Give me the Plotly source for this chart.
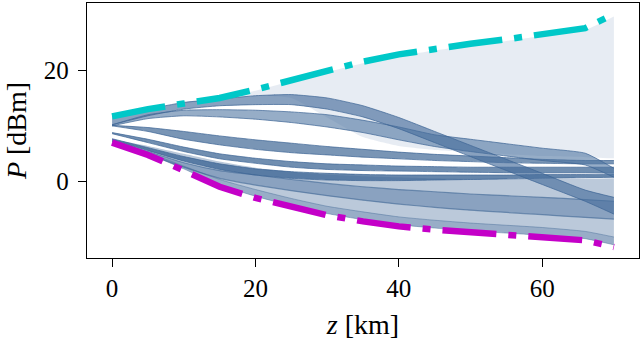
import plotly.graph_objects as go

# distance grid [km]
z_km = [0, 5, 10, 15, 20, 25, 30, 35, 40, 45, 50, 55, 60, 66, 70]

# envelopes [dBm]
p_max = [11.7, 13.0, 14.0, 15.0, 16.5, 18.2, 19.9, 21.5, 22.8, 23.8, 24.7, 25.5, 26.4, 27.5, 30.0]
p_min = [7.0, 4.8, 2.0, -0.9, -2.9, -4.6, -6.0, -7.1, -8.0, -8.6, -9.1, -9.5, -9.9, -10.5, -11.7]

# light fan of trajectories (upper / lower edges)
fan_hi = [11.7, 13.0, 14.0, 15.0, 16.3, 18.0, 19.6, 21.2, 22.5, 23.5, 24.4, 25.2, 26.1, 27.2, 29.6]
fan_lo = [11.7, 13.0, 14.2, 14.8, 15.4, 15.0, 11.5, 8.0, 6.4, 5.7, 5.3, 4.9, 4.6, 4.4, 4.2]

# lower spread of trajectories
low_hi = [7.6, 6.4, 5.0, 3.6, 2.5, 1.8, 1.3, 1.0, 0.8, 0.6, 0.5, 0.5, 0.5, 0.5, 0.6]
low_lo = [7.1, 5.0, 2.3, -0.6, -2.6, -4.3, -5.7, -6.8, -7.7, -8.3, -8.8, -9.2, -9.6, -10.2, -11.3]

# channel ribbons (upper / lower edges)
a_hi = [11.7, 13.0, 14.2, 14.8, 15.4, 15.6, 15.0, 13.6, 11.5, 9.0, 6.5, 4.0, 1.5, -1.5, -2.8]
a_lo = [10.2, 11.8, 13.0, 13.6, 13.8, 13.8, 13.0, 11.6, 9.5, 7.0, 4.5, 2.0, -0.5, -3.5, -5.8]
b_hi = [10.2, 12.0, 12.8, 12.9, 12.8, 12.5, 12.0, 11.0, 9.8, 8.4, 7.6, 6.8, 6.0, 5.1, 2.4]
b_lo = [10.0, 11.3, 11.8, 11.6, 11.2, 10.6, 9.8, 8.8, 7.5, 6.3, 5.4, 4.6, 3.8, 3.0, 0.8]
c_hi = [10.1, 9.7, 9.0, 8.2, 7.5, 6.9, 6.3, 5.8, 5.3, 4.9, 4.6, 4.3, 4.0, 3.8, 3.8]
c_lo = [10.0, 9.0, 7.6, 6.6, 5.8, 5.2, 4.8, 4.4, 4.1, 3.8, 3.6, 3.4, 3.3, 3.2, 3.2]
d_hi = [8.8, 7.6, 6.2, 5.0, 4.2, 3.6, 3.2, 3.0, 2.8, 2.7, 2.6, 2.6, 2.6, 2.6, 2.6]
d_lo = [8.6, 7.0, 5.4, 4.1, 3.3, 2.6, 2.2, 2.0, 1.9, 1.8, 1.7, 1.6, 1.6, 1.6, 1.6]
e_hi = [7.7, 6.1, 4.5, 3.2, 2.3, 1.8, 1.5, 1.3, 1.2, 1.2, 1.2, 1.2, 1.3, 1.3, 1.4]
e_lo = [7.5, 5.6, 3.7, 2.2, 1.2, 0.6, 0.3, 0.2, 0.2, 0.3, 0.4, 0.5, 0.6, 0.7, 0.8]
f_hi = [7.4, 5.4, 3.4, 2.0, 1.2, 0.4, -0.3, -0.9, -1.4, -1.8, -2.2, -2.5, -2.8, -3.2, -3.5]
f_lo = [7.2, 4.9, 2.6, 0.6, -0.6, -1.6, -2.5, -3.3, -4.0, -4.6, -5.1, -5.5, -5.9, -6.4, -6.7]
g_hi = [7.2, 5.2, 2.8, 0.4, -1.4, -3.0, -4.4, -5.4, -6.3, -6.9, -7.4, -7.8, -8.2, -8.9, -9.9]
g_lo = [7.1, 5.0, 2.3, -0.6, -2.6, -4.3, -5.7, -6.8, -7.7, -8.3, -8.8, -9.2, -9.6, -10.2, -11.3]

fig = go.Figure()


def ribbon(hi, lo, fill, edge, ew):
    shape = dict(shape="spline", smoothing=0.5)
    fig.add_trace(go.Scatter(
        x=z_km, y=lo, mode="lines", line=dict(color=edge, width=ew, **shape),
        hoverinfo="skip", showlegend=False))
    fig.add_trace(go.Scatter(
        x=z_km, y=hi, mode="lines", fill="tonexty", fillcolor=fill,
        line=dict(color=edge, width=ew, **shape),
        hoverinfo="skip", showlegend=False))


ribbon(fan_hi, fan_lo, "rgba(208,218,231,0.5)", "rgba(208,218,231,0.0)", 0)
ribbon(low_hi, low_lo, "rgba(120,148,182,0.5)", "rgba(120,148,182,0.0)", 0)
ribbon(g_hi, g_lo, "rgba(110,140,176,0.45)", "rgba(70,108,152,0.45)", 1)
ribbon(f_hi, f_lo, "rgba(80,116,160,0.45)", "rgba(62,102,148,0.6)", 1.2)
ribbon(e_hi, e_lo, "rgba(64,104,150,0.8)", "rgba(60,100,148,0.7)", 1.0)
ribbon(d_hi, d_lo, "rgba(64,104,150,0.75)", "rgba(60,100,148,0.7)", 1.0)
ribbon(c_hi, c_lo, "rgba(64,104,150,0.7)", "rgba(60,100,148,0.7)", 1.0)
ribbon(b_hi, b_lo, "rgba(80,118,162,0.6)", "rgba(60,100,148,0.7)", 1.0)
ribbon(a_hi, a_lo, "rgba(72,110,156,0.65)", "rgba(60,100,148,0.7)", 1.0)

dash = "54px,12px,8px,12px"
fig.add_trace(go.Scatter(x=z_km, y=p_min, mode="lines",
                         line=dict(color="#C400C8", width=6.5, dash=dash),
                         hoverinfo="skip", showlegend=False))
fig.add_trace(go.Scatter(x=z_km, y=p_max, mode="lines",
                         line=dict(color="#00C8C8", width=6.5, dash=dash),
                         hoverinfo="skip", showlegend=False))

font = dict(family="Liberation Serif", size=25, color="black")
title_font = dict(family="Liberation Serif", size=28, color="black")
axis_common = dict(showline=True, linecolor="black", linewidth=1.4, mirror=True,
                   ticks="outside", ticklen=8, tickwidth=1.3, tickcolor="black",
                   showgrid=False, zeroline=False, tickfont=font)

fig.update_layout(
    width=642, height=344,
    margin=dict(l=87, r=3, t=3, b=86),
    paper_bgcolor="white", plot_bgcolor="white",
    font=font,
    xaxis=dict(range=[-3.5, 73.5], tickvals=[0, 20, 40, 60],
               title=dict(text="<i>z</i> [km]", font=title_font, standoff=13), **axis_common),
    yaxis=dict(range=[-13.66, 32.0], tickvals=[0, 20], ticklabelstandoff=4,
               title=dict(text="<i>P</i> [dBm]", font=title_font, standoff=8), **axis_common),
)

fig.write_html("out.html")
